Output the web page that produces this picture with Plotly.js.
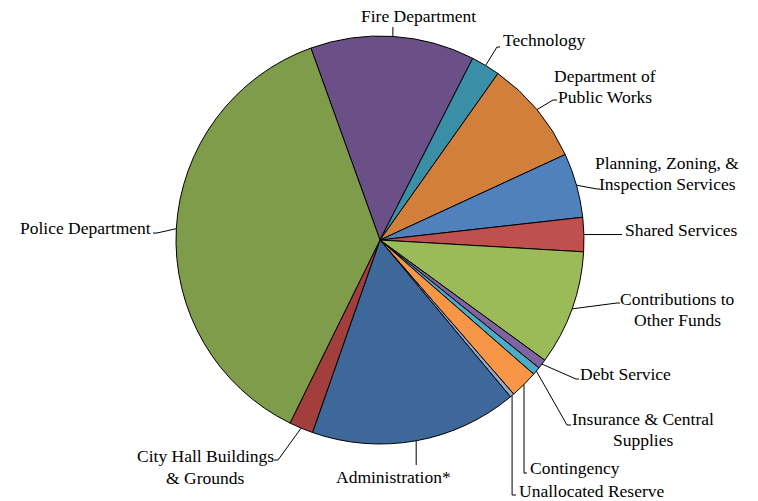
<!DOCTYPE html>
<html>
<head>
<meta charset="utf-8">
<script src="https://cdn.plot.ly/plotly-3.0.1.min.js"></script>
<style>html,body{margin:0;padding:0;background:#fff;}#chart{width:758px;height:501px;}</style>
</head>
<body>
<div id="chart"></div>
<script>
// ---- data (percent of budget) ----
const categories = ['Fire Department','Technology','Department of Public Works','Planning, Zoning, & Inspection Services','Shared Services','Contributions to Other Funds','Debt Service','Insurance & Central Supplies','Contingency','Unallocated Reserve','Administration*','City Hall Buildings & Grounds','Police Department'];
const values = [13.0, 2.3, 8.3, 5.1, 2.7, 9.1, 0.75, 0.64, 2.2, 0.33, 16.4, 1.9, 37.2];
const labelLines = [['Fire Department'],['Technology'],['Department of','Public Works'],['Planning, Zoning, &','Inspection Services'],['Shared Services'],['Contributions to','Other Funds'],['Debt Service'],['Insurance & Central','Supplies'],['Contingency'],['Unallocated Reserve'],['Administration*'],['City Hall Buildings','& Grounds'],['Police Department']];
const colors = ['#6A5087','#3A8FA6','#D17F3A','#4F81BD','#C0504D','#9BBB59','#8064A2','#4BACC6','#F79646','#95A8C8','#3D6899','#A23F3C','#7F9C4A'];

// ---- layout config (pixels) ----
const W = 758, H = 501;
const cx = 380, cy = 240, R = 204;
const rotationDeg = -19.8;
const FONT = 'Liberation Serif';
const FS = 17.5, LINE_H = 21;
const mL = cx - R, mT = cy - R, mR = W - (cx + R), mB = H - (cy + R);
// label placement: text position, anchor, leader elbow points
const labelPos = [
  {x:418, y:16,  xa:'center', pts:[[null,27]]},
  {x:501, y:40,  xa:'left',   pts:[[497,47],[500,47]]},
  {x:605, y:86,  xa:'center', pts:[[553,100],[557,100]]},
  {x:667, y:173, xa:'center', pts:[[597,189],[600,189]]},
  {x:623, y:230, xa:'left',   pts:[[622,null]]},
  {x:677, y:309, xa:'center', pts:[[617,303],[620,303]]},
  {x:578, y:374, xa:'left',   pts:[[576,379],[579,379]]},
  {x:643, y:429, xa:'center', pts:[[567,425],[571,425]]},
  {x:528, y:468, xa:'left',   pts:[[null,473],[527,473]]},
  {x:517, y:491, xa:'left',   pts:[[null,495],[516,495]]},
  {x:393, y:477, xa:'center', pts:[[null,465]]},
  {x:205, y:467, xa:'center', pts:[[278,460],[274,460]]},
  {x:153, y:228, xa:'right',  pts:[[157,233],[153,233]]}
];

const px2x = p => (p - mL) / (2 * R);
const px2y = p => 1 - (p - mT) / (2 * R);

const total = values.reduce((a, b) => a + b, 0);
let acc = 0;
const shapes = [], annotations = [];
values.forEach((v, i) => {
  const mid = (rotationDeg + (acc + v / 2) / total * 360) * Math.PI / 180;
  acc += v;
  const ax = cx + R * Math.sin(mid), ay = cy - R * Math.cos(mid);
  let d = 'M' + px2x(ax) + ',' + px2y(ay);
  labelPos[i].pts.forEach(p => {
    const x = p[0] === null ? ax : p[0];
    const y = p[1] === null ? ay : p[1];
    d += ' L' + px2x(x) + ',' + px2y(y);
  });
  shapes.push({type:'path', xref:'paper', yref:'paper', path:d, line:{color:'#000', width:1}});
  const lp = labelPos[i];
  const lines = labelLines[i];
  lines.forEach((t, k) => {
    const yy = lp.y + (k - (lines.length - 1) / 2) * LINE_H;
    annotations.push({xref:'paper', yref:'paper', x:px2x(lp.x), y:px2y(yy), xanchor:lp.xa, yanchor:'middle',
      text:t, showarrow:false, align:'center',
      font:{family:FONT, size:FS, color:'#000'}});
  });
});

const trace = {
  type:'pie', labels:categories, values:values, sort:false, direction:'clockwise',
  rotation:rotationDeg, textinfo:'none', hoverinfo:'label+percent',
  marker:{colors:colors, line:{color:'#000', width:1}}
};
const layout = {
  width:W, height:H, showlegend:false,
  font:{family:FONT, size:FS, color:'#000'},
  margin:{l:mL, r:mR, t:mT, b:mB, pad:0},
  paper_bgcolor:'#fff', plot_bgcolor:'#fff',
  shapes:shapes, annotations:annotations
};
Plotly.newPlot('chart', [trace], layout, {displayModeBar:false, staticPlot:true});
</script>
</body>
</html>
